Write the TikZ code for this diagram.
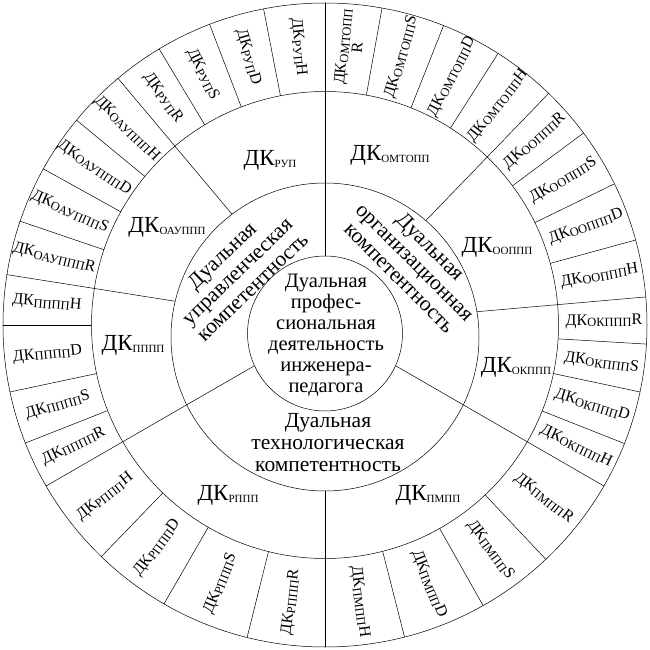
\documentclass[tikz,border=0pt]{standalone}
\usepackage{fontspec}
\setmainfont{Liberation Serif}
\newcommand{\dko}[2]{\fontsize{16}{17}\selectfont ДК\raisebox{-0.25ex}{\fontsize{12.5}{13}\selectfont #1}#2}
\newcommand{\dkm}[1]{\fontsize{23}{25}\selectfont ДК\raisebox{-0.25ex}{\fontsize{11}{12}\selectfont #1}}
\begin{document}
\begin{tikzpicture}[x=1pt,y=1pt,line width=0.5pt,
  declare function={tb(\ta,\kk,\rr)=-\kk*sin(\ta)+10*sqrt((\rr/10)*(\rr/10)-(\kk/10)*(\kk/10)*cos(\ta)*cos(\ta));},
  outerlbl/.style={inner sep=0pt},
  midlbl/.style={inner sep=0pt},
  comptext/.style={align=center,inner sep=0pt,font=\fontsize{21.5}{22}\selectfont}]
\useasboundingbox (-325,-325) rectangle (325,325);
\coordinate (O) at (0,0);
\coordinate (C2) at (0,-12);
\coordinate (C1) at (0,-8.5);
\draw (O) circle (322);
\draw (O) circle (233.5);
\draw (C2) circle (154);
\draw (C1) circle (77.5);
% inner dividers
\foreach \a in {90,210,330}
  \draw ({\a}:{tb(\a,8.5,77.5)}) -- ({\a}:{tb(\a,12,154)});
% middle dividers
\foreach \a in {90,130,171,210,270,330,5,46}
  \draw ({\a}:{tb(\a,12,154)}) -- (\a:233.5);
% outer dividers
\foreach \a in {90,101,111,121,130,140.5,151,161.2,171,180,192,201.5,210,226,240,256,270,284.3,299.4,313.3,330,338.4,348,356.6,5,15.3,26,36.6,46,57.5,68.4,79.8}
  \draw (\a:233.5) -- (\a:322);
% outer labels
\foreach \a/\s/\l [count=\i] in {95.5/РУП/H,106/РУП/D,116/РУП/S,125.5/РУП/R,
  135.25/ОАУППП/H,145.75/ОАУППП/D,156.1/ОАУППП/S,166.1/ОАУППП/R,
  175.5/ПППП/H,186/ПППП/D,196.75/ПППП/S,205.75/ПППП/R,
  218/РППП/H,233/РППП/D,248/РППП/S,263/РППП/R,
  277.15/ПМПП/H,291.85/ПМПП/D,306.35/ПМПП/S,321.65/ПМПП/R,
  334.2/ОКППП/H,343.2/ОКППП/D,352.25/ОКППП/S,0.75/ОКППП/R,
  10.15/ООППП/H,20.65/ООППП/D,31.3/ООППП/S,41.3/ООППП/R,
  51.75/ОМТОПП/H,62.95/ОМТОПП/D,74.1/ОМТОПП/S}{
  \pgfmathsetmacro\rot{cos(\a)>0 ? \a : \a-180}
  \node[outerlbl,rotate=\rot] (o\i) at (\a:279) {\dko{\s}{\l}};
}
\node[outerlbl,rotate=84.9,align=center] (o32) at (84.9:279) {\dko{ОМТОПП}{}\\{\fontsize{16}{17}\selectfont R}};
% middle labels
\node[midlbl] (mRUP) at (-55,165) {\dkm{РУП}};
\node[midlbl] (mOAU) at (-158,98) {\dkm{ОАУППП}};
\node[midlbl] (mPPPP) at (-192,-20) {\dkm{ПППП}};
\node[midlbl] (mRPPP) at (-97,-170) {\dkm{РППП}};
\node[midlbl] (mPMPP) at (103,-170) {\dkm{ПМПП}};
\node[midlbl] (mOKPPP) at (191,-42) {\dkm{ОКППП}};
\node[midlbl] (mOOPPP) at (172,78) {\dkm{ООППП}};
\node[midlbl] (mOMTOPP) at (65,170) {\dkm{ОМТОПП}};
% competences
\node[comptext,rotate=44] (cU) at (-88,54) {Дуальная\\управленческая\\компетентность};
\node[comptext,rotate=-45] (cO) at (90,63) {Дуальная\\организационная\\компетентность};
\node[comptext] (cT) at (3,-118) {Дуальная\\технологическая\\компетентность};
\node[align=center,inner sep=0pt,font=\fontsize{20.5}{21}\selectfont] (core) at (1,-10.5)
  {Дуальная\\профес-\\сиональная\\деятельность\\инженера-\\педагога};
\end{tikzpicture}
\end{document}
